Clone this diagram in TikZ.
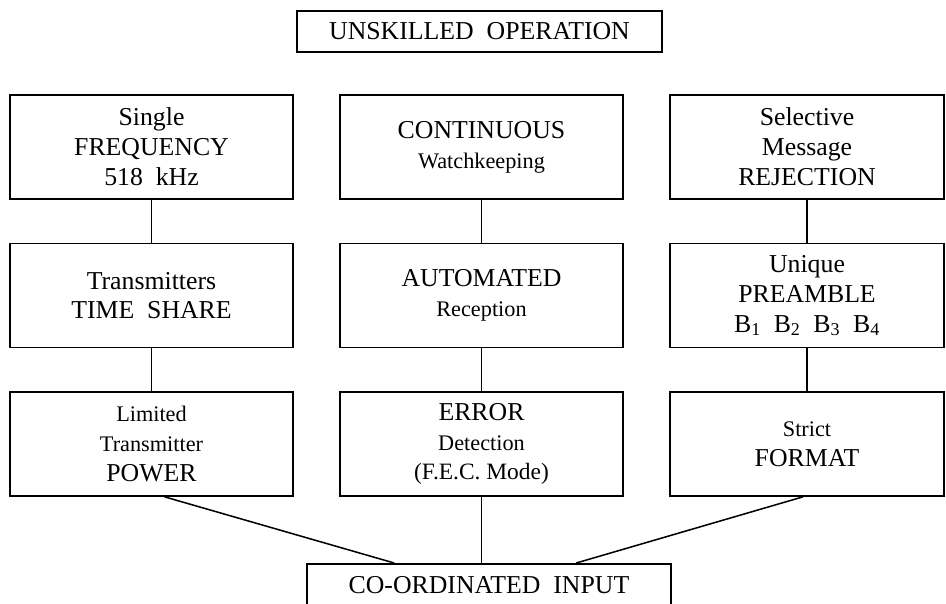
\documentclass[tikz,border=0pt]{standalone}
\usepackage{fontspec}
\setmainfont{Liberation Serif}
\usetikzlibrary{positioning,calc}

\begin{document}
\begin{tikzpicture}[
  x=0.03cm, y=-0.03cm,
  box/.style={draw, line width=1.3pt, align=center, minimum width=8.49cm, minimum height=3.12cm, inner sep=2pt, font=\fontsize{22}{25.5}\selectfont},
  banner/.style={box, minimum width=10.95cm, minimum height=1.23cm},
  link/.style={line width=1.3pt}
]
\useasboundingbox (0,0) rectangle (946,603);

\node[banner] (unskilled) at (479.5,31.5) {UNSKILLED\ \ OPERATION};

% top row
\node[box] (freq) at (151.5,147) {Single\\FREQUENCY\\518\ \ kHz};
\node[box] (watch) at (481.5,147) {CONTINUOUS\\{\fontsize{19}{25.5}\selectfont Watchkeeping}};
\node[box, minimum width=8.22cm] (reject) at (807,147) {Selective\\Message\\REJECTION};

% middle row
\node[box, below=1.29cm of freq] (share) {Transmitters\\TIME\ \ SHARE};
\node[box, below=1.29cm of watch] (auto) {AUTOMATED\\{\fontsize{19}{25.5}\selectfont Reception}};
\node[box, minimum width=8.22cm, below=1.29cm of reject] (preamble)
  {Unique\\PREAMBLE\\B\textsubscript{1}\ \ B\textsubscript{2}\ \ B\textsubscript{3}\ \ B\textsubscript{4}};

% bottom row
\node[box, below=1.29cm of share] (power)
  {{\fontsize{19}{25.5}\selectfont Limited}\\{\fontsize{19}{25.5}\selectfont Transmitter}\\POWER};
\node[box, below=1.29cm of auto] (error)
  {ERROR\\{\fontsize{19}{25.5}\selectfont Detection}\\{\fontsize{20}{25.5}\selectfont (F.E.C. Mode)}};
\node[box, minimum width=8.22cm, below=1.29cm of preamble] (format)
  {{\fontsize{19}{25.5}\selectfont Strict}\\FORMAT};

\node[banner, minimum width=10.92cm, minimum height=1.3cm, anchor=north] (input) at (489,563) {CO-ORDINATED\ \ INPUT};

\foreach \a/\b in {freq/share, share/power, watch/auto, auto/error, reject/preamble, preamble/format} {
  \draw[link] (\a) -- (\b);
}
\draw[link] ($(power.south)+(13,0)$) -- ($(input.north west)+(88,0)$);
\draw[link] (error.south) -- (error.south |- input.north);
\draw[link] ($(format.south)+(-4,0)$) -- ($(input.north west)+(270,0)$);

\end{tikzpicture}
\end{document}
